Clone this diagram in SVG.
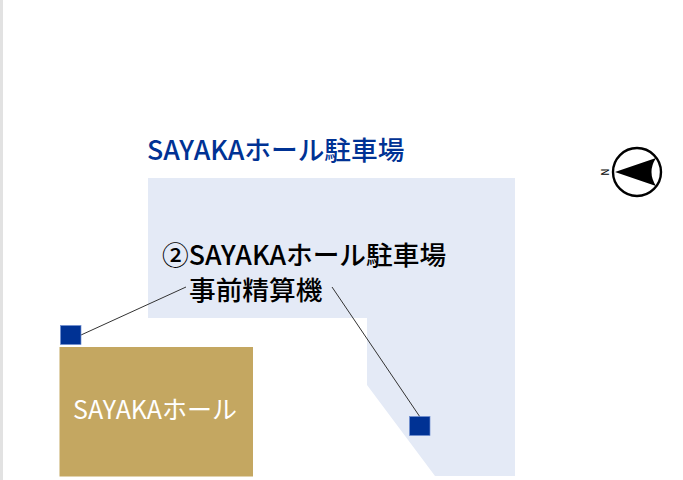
<svg xmlns="http://www.w3.org/2000/svg" width="683" height="480" viewBox="0 0 683 480">
<style>
text{font-family:"Noto Sans CJK JP","Noto Sans",sans-serif}
.t{font-size:26.700px;font-weight:500}
.m{fill:#003294;stroke:#6f8fd0;stroke-width:.7}
.c{stroke:#333;stroke-width:1;fill:none}
</style>
<rect width="683" height="480" fill="#fff"/>
<rect x="0" y="0" width="3" height="480" fill="#e2e2e2"/>
<g id="lot"><path d="M148 178H515V476H435L367 385V318H148Z" fill="#e4eaf6"/></g>
<g id="hall"><rect x="59.500" y="347" width="193.500" height="129.500" fill="#c4a761"/>
<text x="155" y="419" font-size="25" fill="#fff" text-anchor="middle">SAYAKAホール</text></g>
<text id="title" x="147" y="160" class="t" fill="#003294">SAYAKAホール駐車場</text>
<g id="label"><text x="162" y="265" class="t" fill="#000">②SAYAKAホール駐車場</text>
<text x="189" y="300" class="t" fill="#000">事前精算機</text></g>
<g id="connectors"><path class="c" d="M81 335L186 287M332 287L420 417"/></g>
<g id="m1"><rect class="m" x="60.500" y="325.500" width="20.500" height="19"/></g>
<g id="m2"><rect class="m" x="409.500" y="416.500" width="20.500" height="19"/></g>
<g id="compass"><circle cx="637" cy="172" r="24" fill="#fff" stroke="#000" stroke-width="2.400"/>
<path d="M615 172L656 158Q647 172 656 186Z" fill="#000"/>
<text x="604" y="175" font-size="10" fill="#000" text-anchor="middle" transform="rotate(90 604 172)">N</text></g>
</svg>
